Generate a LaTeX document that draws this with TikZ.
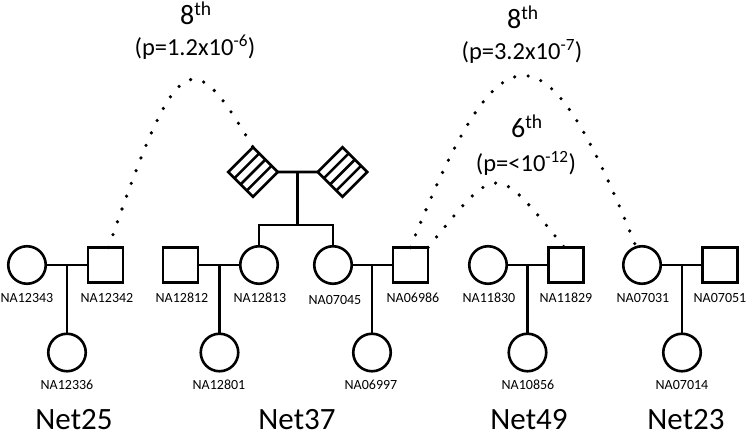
\documentclass[tikz,border=0pt]{standalone}
\usepackage{fontspec}
\setmainfont{Carlito}
\usetikzlibrary{calc,positioning}

\begin{document}
\begin{tikzpicture}[x=1pt, y=1pt, line width=2.6pt,
    person/.style  = {draw, inner sep=0pt, outer sep=0pt},
    female/.style  = {person, circle, minimum size=37.5pt},
    male/.style    = {person, rectangle, minimum size=35pt},
    unknown/.style = {male, rotate=45},
    sample/.style  = {font=\fontsize{14}{14}\selectfont, inner sep=0pt, anchor=base},
    netname/.style = {font=\fontsize{31}{31}\selectfont, inner sep=0pt, anchor=base},
    degree/.style  = {font=\fontsize{28}{28}\selectfont, inner sep=0pt, anchor=base},
    pvalue/.style  = {font=\fontsize{24.5}{24.5}\selectfont, inner sep=0pt, anchor=base},
    ibd/.style     = {line width=3.6pt, line cap=round, dash pattern=on 0pt off 13.6pt}
  ]
  \useasboundingbox (0,0) rectangle (747,-438);

  % parents and children
  \foreach \id/\x/\kind in {12343/27/female, 12342/105.5/male,
      12812/180.5/male, 12813/259/female, 07045/333/female, 06986/410.5/male,
      11830/488/female, 11829/566/male, 07031/642/female, 07051/720/male}
    \node [\kind] (NA\id) at (\x,-265) {};
  \foreach \id/\x in {12336/67, 12801/219.5, 06997/372, 10856/527.5, 07014/682}
    \node [female] (NA\id) at (\x,-352.5) {};

  % sample names
  \foreach \id/\x/\y in {12343/27/303, 12342/107/303, 12812/182/303,
      12813/260/303, 07045/335/305, 06986/413/303, 11830/489/303,
      11829/566/303, 07031/643/303, 07051/720/303,
      12336/67/389, 12801/219/389, 06997/371/389, 10856/528/389, 07014/682/389}
    \node [sample] (tNA\id) at (\x,-\y) {NA\id};

  % couples and their child
  \foreach \a/\b/\c in {12343/12342/12336, 12812/12813/12801,
      07045/06986/06997, 11830/11829/10856, 07031/07051/07014} {
    \draw (NA\a) -- (NA\b);
    \draw (NA\c) -- (NA\c |- NA\a);
  }

  % grandparents of Net37
  \node [unknown] (U1) at (253,-172) {};
  \node [unknown] (U2) at (342.5,-172) {};
  \foreach \u in {U1,U2}
    \foreach \f in {0.25,0.5,0.75}
      \draw ($(\u.south west)!\f!(\u.north west)$) -- ($(\u.south east)!\f!(\u.north east)$);
  \draw (U1) -- (U2);
  \coordinate (sib) at (297.5,-225);
  \draw (sib) -- (sib |- U1);
  \draw (NA12813) -- (NA12813 |- sib) -- (NA07045 |- sib) -- (NA07045);

  % shared segments
  \draw [ibd] (NA12342.80) .. controls +(70,204) and +(-61,103) .. (U1.north east);
  \draw [ibd] (NA06986.north) .. controls +(91,229) and +(-91,229) .. (NA07031.108);
  \draw [ibd] (NA06986.north east) .. controls +(70,86) and +(-70,86) .. (NA11829.95);

  \node [degree] (deg1) at (196,-25) {8\textsuperscript{th}};
  \node [pvalue] (pv1) at (195,-56) {(p=1.2x10\textsuperscript{-6})};
  \node [degree] (deg2) at (523,-29) {8\textsuperscript{th}};
  \node [pvalue] (pv2) at (522,-60) {(p=3.2x10\textsuperscript{-7})};
  \node [degree] (deg3) at (527,-138) {6\textsuperscript{th}};
  \node [pvalue] (pv3) at (526,-172) {(p=<10\textsuperscript{-12})};

  \node [netname] (net25) at (74,-429.5) {Net25};
  \node [netname] (net37) at (297,-429.5) {Net37};
  \node [netname] (net49) at (529,-429.5) {Net49};
  \node [netname] (net23) at (686,-429.5) {Net23};
\end{tikzpicture}
\end{document}
